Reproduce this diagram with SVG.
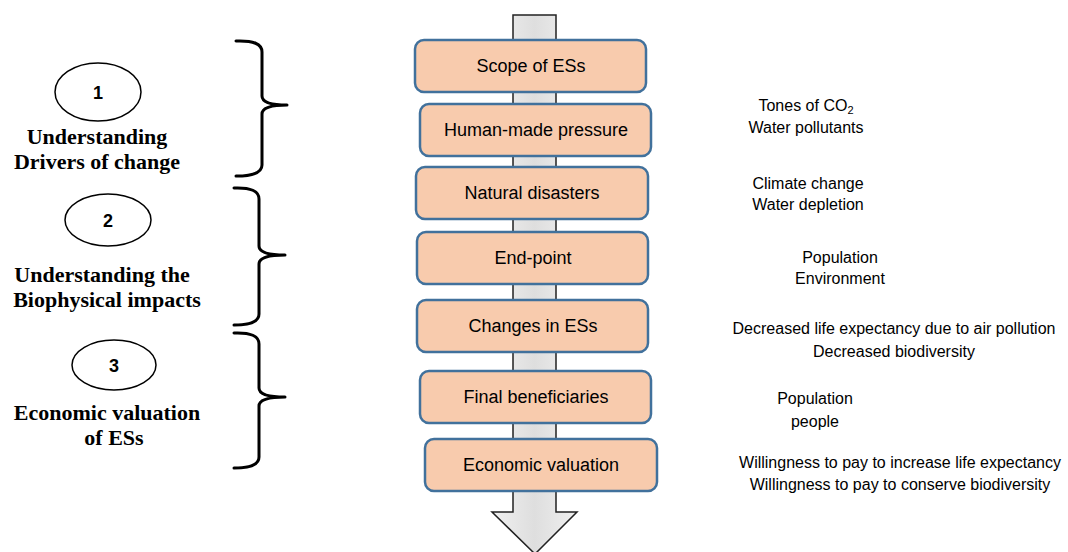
<svg xmlns="http://www.w3.org/2000/svg" width="1068" height="552" viewBox="0 0 1068 552">
  <defs>
    <linearGradient id="shaftFill" x1="0" y1="0" x2="1" y2="0">
      <stop offset="0" stop-color="#f0f0f0"/>
      <stop offset="0.5" stop-color="#dedede"/>
      <stop offset="1" stop-color="#f0f0f0"/>
    </linearGradient>
    <style>
      .step rect { fill: #F8CBAD; stroke: #41719C; stroke-width: 2.5; }
      .step text { font-family: "Liberation Sans", Arial, sans-serif; font-size: 18px; fill: #000; text-anchor: middle; }
      .note { font-family: "Liberation Sans", Arial, sans-serif; font-size: 16px; fill: #000; text-anchor: middle; }
      .phase ellipse { fill: #fff; stroke: #000; stroke-width: 1.5; }
      .phase .num { font-family: "Liberation Sans", Arial, sans-serif; font-weight: bold; font-size: 18px; text-anchor: middle; }
      .phase .title { font-family: "Liberation Serif", "Times New Roman", serif; font-weight: bold; font-size: 22px; text-anchor: middle; }
      .brace { fill: none; stroke: #000; stroke-width: 3; stroke-linejoin: round; stroke-linecap: round; }
    </style>
  </defs>
  <rect width="1068" height="552" fill="#fff"/>

  <!-- big downward arrow behind the steps -->
  <g id="flow-arrow">
    <path d="M513,15 H556 V512 H577 L535,554 L492,512 H513 Z" fill="url(#shaftFill)" stroke="#222" stroke-width="1.5"/>
  </g>

  <!-- step boxes -->
  <g id="step-scope" class="step">
    <rect x="415" y="40" width="231" height="52" rx="9"/>
    <text x="531" y="72">Scope of ESs</text>
  </g>
  <g id="step-pressure" class="step">
    <rect x="420" y="104" width="231" height="52" rx="9"/>
    <text x="536" y="136">Human-made pressure</text>
  </g>
  <g id="step-disasters" class="step">
    <rect x="416" y="167" width="232" height="52" rx="9"/>
    <text x="532" y="199">Natural disasters</text>
  </g>
  <g id="step-endpoint" class="step">
    <rect x="417" y="232" width="231" height="52" rx="9"/>
    <text x="533" y="264">End-point</text>
  </g>
  <g id="step-changes" class="step">
    <rect x="417" y="300" width="231" height="52" rx="9"/>
    <text x="533" y="332">Changes in ESs</text>
  </g>
  <g id="step-beneficiaries" class="step">
    <rect x="420" y="371" width="231" height="52" rx="9"/>
    <text x="536" y="403">Final beneficiaries</text>
  </g>
  <g id="step-valuation" class="step">
    <rect x="425" y="439" width="232" height="52" rx="9"/>
    <text x="541" y="471">Economic valuation</text>
  </g>

  <!-- examples for each step -->
  <g id="notes">
    <text class="note" x="806" y="111">Tones of CO<tspan font-size="11" dy="3">2</tspan></text>
    <text class="note" x="806" y="133">Water pollutants</text>
    <text class="note" x="808" y="189">Climate change</text>
    <text class="note" x="808" y="210">Water depletion</text>
    <text class="note" x="840" y="263">Population</text>
    <text class="note" x="840" y="284">Environment</text>
    <text class="note" x="894" y="334">Decreased life expectancy due to air pollution</text>
    <text class="note" x="894" y="357">Decreased biodiversity</text>
    <text class="note" x="815" y="404">Population</text>
    <text class="note" x="815" y="427">people</text>
    <text class="note" x="900" y="468">Willingness to pay to increase life expectancy</text>
    <text class="note" x="900" y="490">Willingness to pay to conserve biodiversity</text>
  </g>

  <!-- phase labels -->
  <g id="phase-1" class="phase">
    <ellipse cx="98" cy="92" rx="43" ry="29"/>
    <text class="num" x="98" y="99">1</text>
    <text class="title" x="97" y="144">Understanding</text>
    <text class="title" x="97" y="169">Drivers of change</text>
  </g>
  <g id="phase-2" class="phase">
    <ellipse cx="108" cy="220" rx="43" ry="26"/>
    <text class="num" x="108" y="227">2</text>
    <text class="title" x="102" y="282">Understanding the</text>
    <text class="title" x="107" y="307">Biophysical impacts</text>
  </g>
  <g id="phase-3" class="phase">
    <ellipse cx="114" cy="365" rx="42" ry="25"/>
    <text class="num" x="114" y="372">3</text>
    <text class="title" x="107" y="420">Economic valuation</text>
    <text class="title" x="114" y="445">of ESs</text>
  </g>

  <!-- curly braces grouping the steps -->
  <g id="connectors">
    <path class="brace" d="M236,41 Q262,40 262,52 V96 Q262,105 287,105 Q262,105 262,114 V165 Q262,176 236,176"/>
    <path class="brace" d="M234,188 Q259,187 259,199 V246 Q259,255 285,255 Q259,255 259,264 V314 Q259,325 234,325"/>
    <path class="brace" d="M234,333 Q259,332 259,344 V388 Q259,397 285,397 Q259,397 259,406 V457 Q259,468 234,468"/>
  </g>
</svg>
